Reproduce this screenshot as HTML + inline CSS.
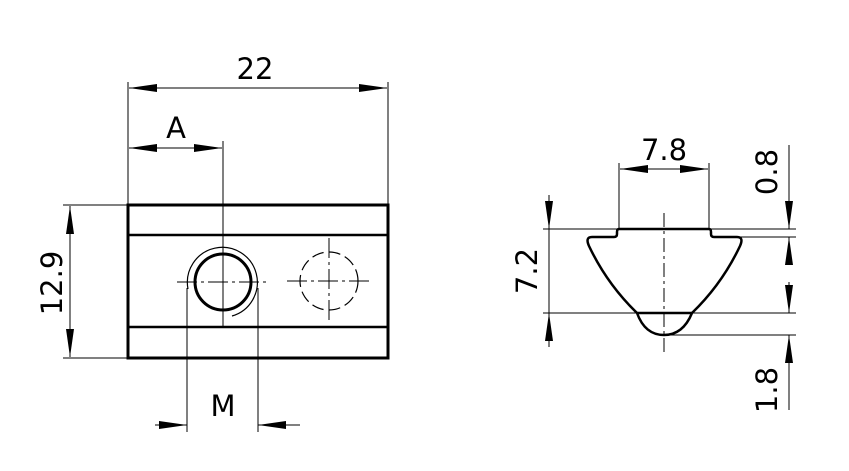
<!DOCTYPE html>
<html><head><style>html,body{margin:0;padding:0;background:#fff}svg{display:block}text{font-family:"DejaVu Sans","Liberation Sans",sans-serif;fill:#000}</style></head>
<body>
<svg width="849" height="471" viewBox="0 0 849 471" xmlns="http://www.w3.org/2000/svg">
<defs>
<marker id="a" viewBox="0 0 28 8" refX="28" refY="4" markerWidth="28" markerHeight="8" markerUnits="userSpaceOnUse" orient="auto-start-reverse"><path d="M0,0L28,4L0,8z" fill="#000"/></marker>
</defs>
<g stroke="#000" fill="none">
<!-- left view body -->
<rect x="128" y="205" width="260" height="153" stroke-width="3"/>
<line x1="128" y1="235" x2="388" y2="235" stroke-width="2.5"/>
<line x1="128" y1="327" x2="388" y2="327" stroke-width="2.5"/>
<circle cx="223" cy="282" r="28" stroke-width="3"/>
<path d="M188,289 A35,35 0 1 1 232,316" stroke-width="1.2"/>
<circle cx="329" cy="281" r="29" stroke-width="1.2" stroke-dasharray="12,5"/>
<g stroke-width="1" stroke-dasharray="20,4,3,4">
<line x1="177" y1="282" x2="270" y2="282"/>
<line x1="287" y1="281" x2="371" y2="281"/>
<line x1="329" y1="238" x2="329" y2="324"/>
</g>
<line x1="223" y1="141" x2="223" y2="327" stroke-width="1"/>
<!-- dims left -->
<g stroke-width="1">
<line x1="128" y1="82" x2="128" y2="205"/>
<line x1="388" y1="82" x2="388" y2="205"/>
<line x1="129" y1="88" x2="387" y2="88" marker-start="url(#a)" marker-end="url(#a)"/>
<line x1="129" y1="148" x2="222" y2="148" marker-start="url(#a)" marker-end="url(#a)"/>
<line x1="63" y1="205" x2="128" y2="205"/>
<line x1="63" y1="358" x2="128" y2="358"/>
<line x1="70" y1="206" x2="70" y2="357" marker-start="url(#a)" marker-end="url(#a)"/>
<line x1="187" y1="288" x2="187" y2="432"/>
<line x1="258" y1="288" x2="258" y2="432"/>
<line x1="155" y1="425" x2="187" y2="425" marker-end="url(#a)"/>
<line x1="300" y1="425" x2="258" y2="425" marker-end="url(#a)"/>
</g>
<!-- right view -->
<path d="M619,229 L709,229 Q711,229 711,232 L711,234 Q711,237 714,237 L737,237 Q744,237 740,246 Q722,284 692,313 Q683,335 664,335 Q645,335 637,313 Q607,284 589,246 Q585,237 592,237 L614,237 Q617,237 617,234 L617,232 Q617,229 619,229 Z" stroke-width="2.5"/>
<line x1="637" y1="313" x2="692" y2="313" stroke-width="2.5"/>
<line x1="664" y1="213" x2="664" y2="355" stroke-width="1" stroke-dasharray="14,4,3,4"/>
<g stroke-width="1">
<line x1="619" y1="163" x2="619" y2="229"/>
<line x1="709" y1="163" x2="709" y2="229"/>
<line x1="620" y1="169" x2="708" y2="169" marker-start="url(#a)" marker-end="url(#a)"/>
<line x1="543" y1="229" x2="619" y2="229"/>
<line x1="709" y1="229" x2="796" y2="229"/>
<line x1="740" y1="237" x2="796" y2="237"/>
<line x1="543" y1="313" x2="796" y2="313"/>
<line x1="664" y1="335" x2="796" y2="335"/>
<line x1="549" y1="195" x2="549" y2="229" marker-end="url(#a)"/>
<line x1="549" y1="347" x2="549" y2="313" marker-end="url(#a)"/>
<line x1="549" y1="229" x2="549" y2="313"/>
<line x1="789" y1="145" x2="789" y2="229" marker-end="url(#a)"/>
<line x1="789" y1="265" x2="789" y2="237" marker-end="url(#a)"/>
<line x1="789" y1="282" x2="789" y2="313" marker-end="url(#a)"/>
<line x1="789" y1="410" x2="789" y2="335" marker-end="url(#a)"/>
</g>
</g>
<g font-size="29">
<text x="255" y="79" text-anchor="middle">22</text>
<text x="176" y="138" text-anchor="middle">A</text>
<text x="223" y="416" text-anchor="middle">M</text>
<text x="664" y="160" text-anchor="middle">7.8</text>
<text transform="translate(62,283) rotate(-90)" text-anchor="middle">12.9</text>
<text transform="translate(537,271) rotate(-90)" text-anchor="middle">7.2</text>
<text transform="translate(777,172) rotate(-90)" text-anchor="middle">0.8</text>
<text transform="translate(777,390) rotate(-90)" text-anchor="middle">1.8</text>
</g>
</svg>
</body></html>
